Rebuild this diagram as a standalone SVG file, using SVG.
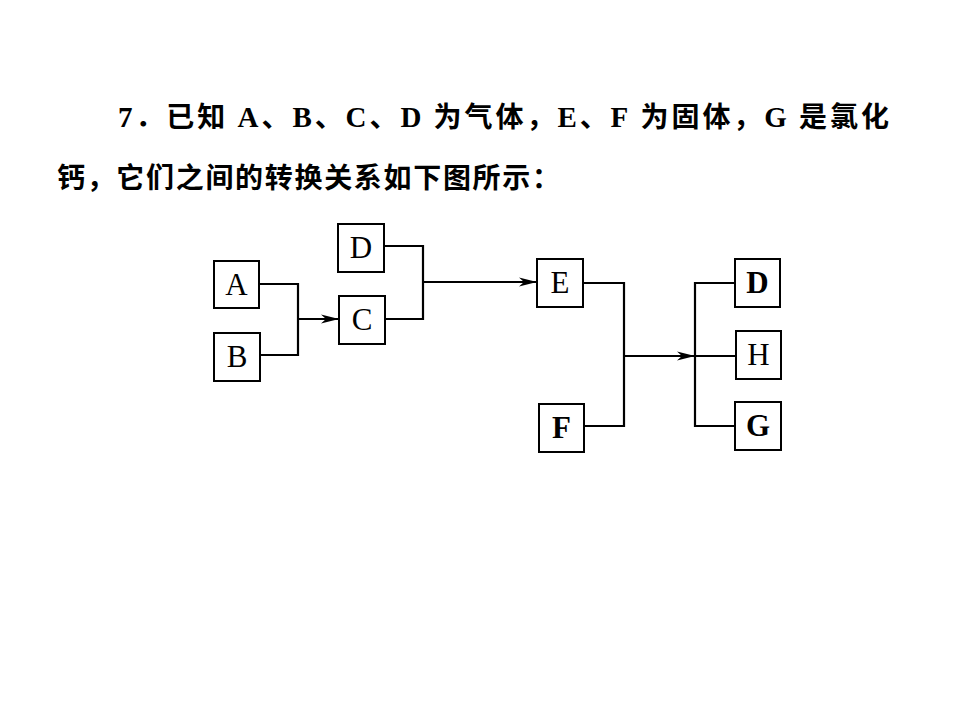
<svg xmlns="http://www.w3.org/2000/svg" width="960" height="720" viewBox="0 0 960 720">
<style>
.title{font-family:"Noto Sans CJK SC","Noto Sans CJK JP",sans-serif;font-size:28px;font-weight:bold;fill:#000}
.lat{font-family:"Liberation Serif",serif;font-weight:bold;font-size:29px}
.box{fill:#fff;stroke:#000;stroke-width:2}
.lbl{font-family:"Liberation Serif",serif;font-size:31px;fill:#000;text-anchor:middle}
.b{font-weight:bold}
.con{fill:none;stroke:#000;stroke-width:2.2}
</style>
<defs>
<marker id="arr" markerUnits="userSpaceOnUse" markerWidth="18" markerHeight="10" refX="18" refY="5" orient="auto">
<path d="M0,0.5 L18,5 L0,9.5 L5,5 Z" fill="#000"/>
</marker>
</defs>
<rect width="960" height="720" fill="#fff"/>
<text class="title" x="118" y="127" textLength="771" lengthAdjust="spacing"><tspan class="lat">7</tspan>．已知 <tspan class="lat">A</tspan>、<tspan class="lat">B</tspan>、<tspan class="lat">C</tspan>、<tspan class="lat">D</tspan> 为气体，<tspan class="lat">E</tspan>、<tspan class="lat">F</tspan> 为固体，<tspan class="lat">G</tspan> 是氯化</text>
<text class="title" x="57" y="188" textLength="503" lengthAdjust="spacing">钙，它们之间的转换关系如下图所示：</text>
<g id="connectors">
<path class="con" d="M259,284 H298 V355 H260"/>
<path class="con" d="M298,319 H339" marker-end="url(#arr)"/>
<path class="con" d="M384,246 H423 V319 H385"/>
<path class="con" d="M423,282 H537" marker-end="url(#arr)"/>
<path class="con" d="M583,283 H624 V426 H584"/>
<path class="con" d="M624,356 H695" marker-end="url(#arr)"/>
<path class="con" d="M735,283 H695 V426 H735"/>
<path class="con" d="M695,356 H736"/>
</g>
<g id="A"><rect class="box" x="214" y="261" width="45" height="47"/><text class="lbl" x="236.5" y="295">A</text></g>
<g id="B"><rect class="box" x="214" y="333" width="46" height="48"/><text class="lbl" x="237" y="367">B</text></g>
<g id="C"><rect class="box" x="339" y="296" width="46" height="48"/><text class="lbl" x="362" y="330">C</text></g>
<g id="D1"><rect class="box" x="338" y="224" width="46" height="48"/><text class="lbl" x="361" y="258">D</text></g>
<g id="E"><rect class="box" x="537" y="259" width="46" height="48"/><text class="lbl" x="560" y="293">E</text></g>
<g id="F"><rect class="box" x="539" y="404" width="45" height="48"/><text class="lbl b" x="561.5" y="438">F</text></g>
<g id="D2"><rect class="box" x="735" y="259" width="45" height="48"/><text class="lbl b" x="757.5" y="293">D</text></g>
<g id="H"><rect class="box" x="736" y="331" width="45" height="48"/><text class="lbl" x="758.5" y="365">H</text></g>
<g id="G"><rect class="box" x="735" y="402" width="46" height="48"/><text class="lbl b" x="758" y="436">G</text></g>
</svg>
